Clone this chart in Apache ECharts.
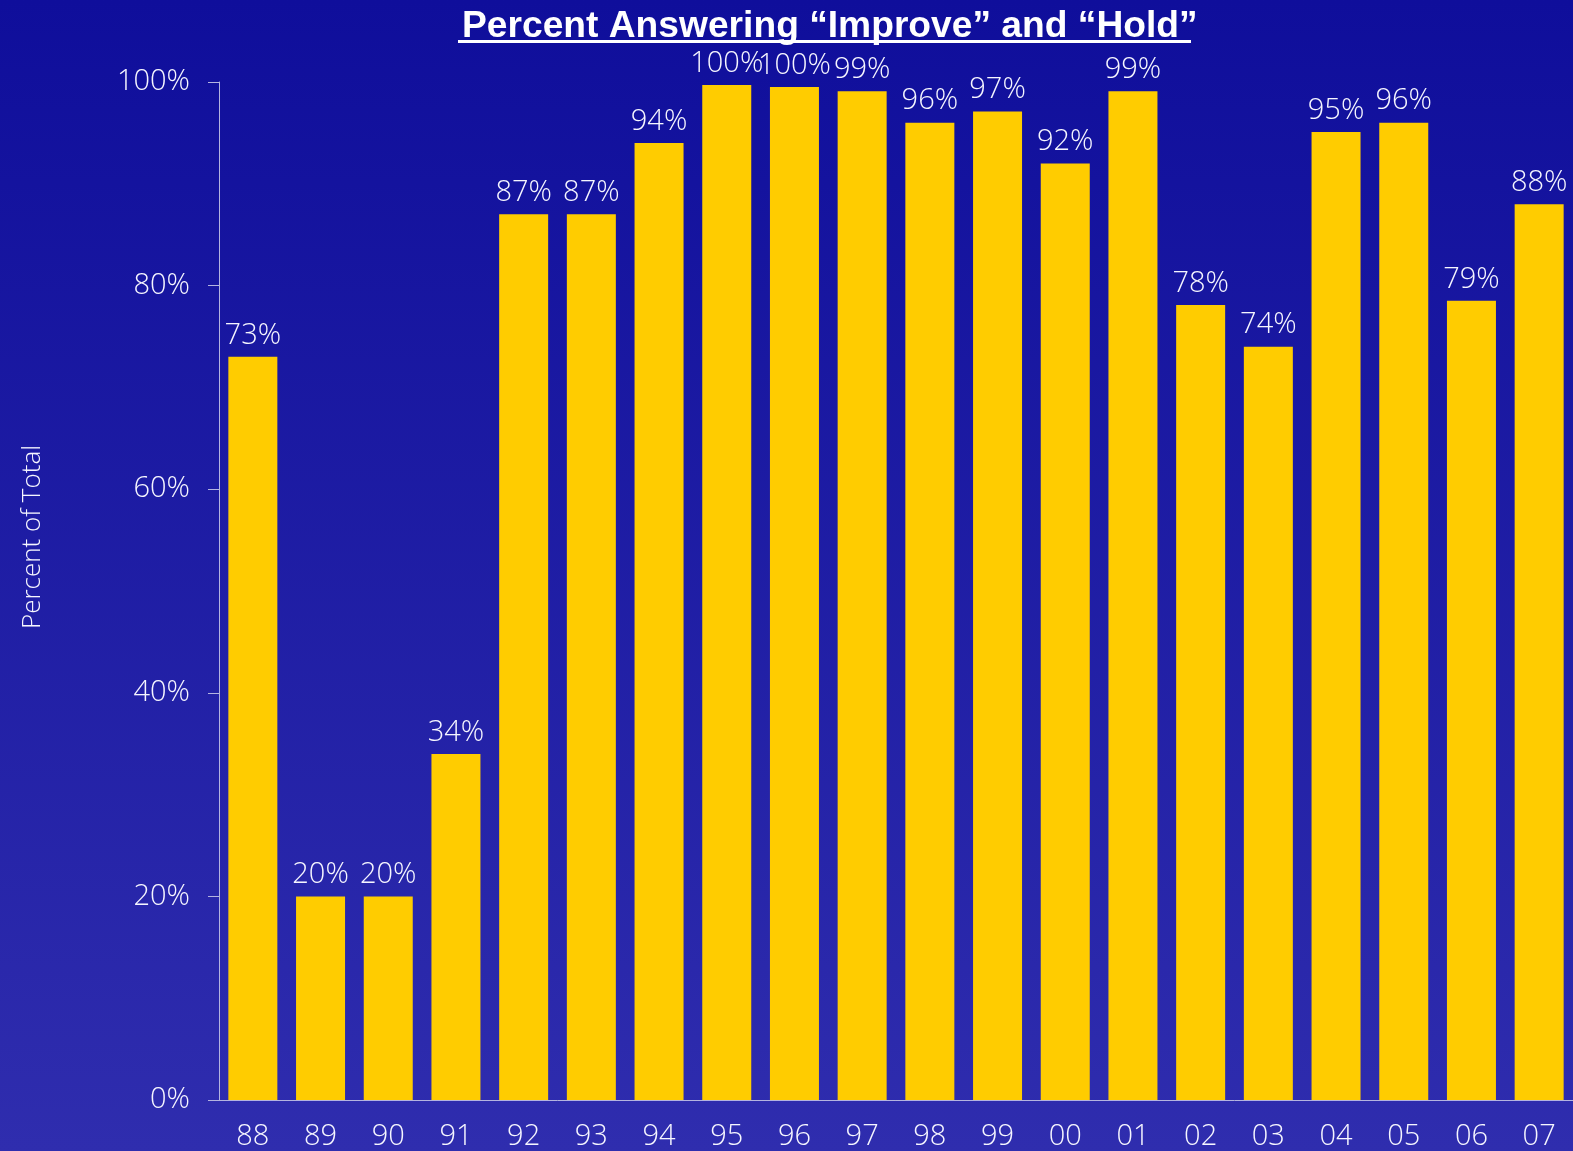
<!DOCTYPE html>
<html>
<head>
<meta charset="utf-8">
<script src="https://cdn.jsdelivr.net/npm/echarts@6/dist/echarts.min.js"></script>
<style>
html,body{margin:0;padding:0;width:100%;height:100%;overflow:hidden;}
#chart{width:1573px;height:1151px;}
</style>
</head>
<body>
<div id="chart"></div>
<script>
var titleText = 'Percent Answering \u201CImprove\u201D and \u201CHold\u201D';
var yAxisName = 'Percent of Total';
var categories = ['88','89','90','91','92','93','94','95','96','97','98','99','00','01','02','03','04','05','06','07'];
var values = [73, 20, 20, 34, 87, 87, 94, 99.7, 99.5, 99.1, 96, 97.1, 92, 99.1, 78.1, 74, 95.1, 96, 78.5, 88];
var yTicks = [0, 20, 40, 60, 80, 100];

var chart = echarts.init(document.getElementById('chart'));
var lightFont = '"Open Sans", "DejaVu Sans", sans-serif';
var textColor = '#f6f6ff';
chart.setOption({
  backgroundColor: {
    type: 'linear', x: 0, y: 0, x2: 0, y2: 1,
    colorStops: [{offset: 0, color: '#0f0e9b'}, {offset: 1, color: '#2f2dae'}]
  },
  title: {
    text: titleText,
    left: 457,
    top: 3,
    textStyle: {
      color: '#ffffff',
      fontFamily: '"Liberation Sans", Arial, sans-serif',
      fontWeight: 'bold',
      fontSize: 37.2
    }
  },
  graphic: [{
    type: 'rect',
    shape: {x: 458, y: 40, width: 733, height: 3},
    style: {fill: '#ffffff'}
  }, {
    type: 'text',
    x: 33, y: 537,
    rotation: Math.PI / 2,
    style: {
      text: yAxisName,
      fill: textColor,
      font: '300 26px "Open Sans", sans-serif',
      align: 'center',
      verticalAlign: 'middle'
    }
  }],
  grid: {left: 219, top: 82, bottom: 47, width: 1357, containLabel: false},
  xAxis: {
    type: 'category',
    data: categories,
    axisLine: {lineStyle: {color: '#b4b4e0', width: 1}},
    axisTick: {show: false},
    axisLabel: {color: textColor, fontFamily: lightFont, fontWeight: 300, fontSize: 29, margin: 22}
  },
  yAxis: {
    type: 'value',
    min: 0, max: 100, interval: 20,
    axisLine: {show: true, lineStyle: {color: '#b4b4e0', width: 1}},
    axisTick: {show: true, length: 11, lineStyle: {color: '#b4b4e0'}},
    splitLine: {show: false},
    axisLabel: {
      color: textColor, fontFamily: lightFont, fontWeight: 300, fontSize: 29, margin: 29,
      formatter: function (v) { return yTicks.indexOf(v) >= 0 ? v + '%' : ''; }
    }
  },
  series: [{
    type: 'bar',
    data: values,
    barWidth: 49,
    itemStyle: {color: '#ffcc00'},
    label: {
      show: true,
      position: 'top',
      distance: 7,
      color: textColor,
      fontFamily: lightFont,
      fontWeight: 300,
      fontSize: 29,
      formatter: function (p) { return Math.round(p.value) + '%'; }
    }
  }]
});
</script>
</body>
</html>
